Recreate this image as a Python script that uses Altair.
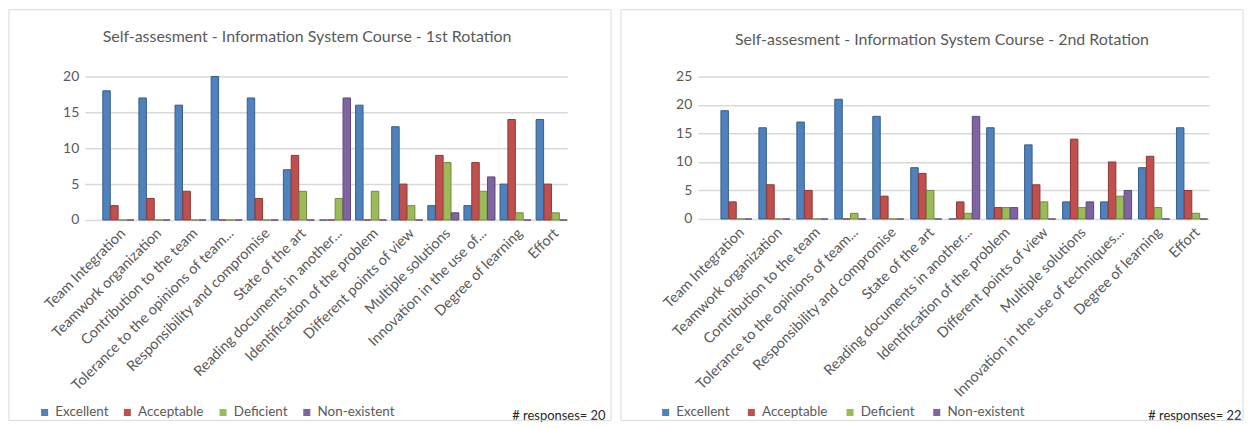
import altair as alt
import pandas as pd

levels = ["Excellent", "Acceptable", "Deficient", "Non-existent"]
fill_colors = ["#4F81BD", "#C0504D", "#9BBB59", "#8064A2"]
edge_colors = ["#385D8A", "#8C3836", "#71893F", "#5C4776"]

cats1 = ["Team Integration", "Teamwork organization", "Contribution to the team",
         "Tolerance to the opinions of team...", "Responsibility and compromise",
         "State of the art", "Reading documents in another...",
         "Identification of the problem", "Different points of view",
         "Multiple solutions", "Innovation in the use of...", "Degree of learning", "Effort"]
cats2 = ["Team Integration", "Teamwork organization", "Contribution to the team",
         "Tolerance to the opinions of team...", "Responsibility and compromise",
         "State of the art", "Reading documents in another...",
         "Identification of the problem", "Different points of view",
         "Multiple solutions", "Innovation in the use of techniques...", "Degree of learning", "Effort"]

r1_excellent = [18, 17, 16, 20, 17, 7, 0, 16, 13, 2, 2, 5, 14]
r1_acceptable = [2, 3, 4, 0, 3, 9, 0, 0, 5, 9, 8, 14, 5]
r1_deficient = [0, 0, 0, 0, 0, 4, 3, 4, 2, 8, 4, 1, 1]
r1_nonexistent = [0, 0, 0, 0, 0, 0, 17, 0, 0, 1, 6, 0, 0]

r2_excellent = [19, 16, 17, 21, 18, 9, 0, 16, 13, 3, 3, 9, 16]
r2_acceptable = [3, 6, 5, 0, 4, 8, 3, 2, 6, 14, 10, 11, 5]
r2_deficient = [0, 0, 0, 1, 0, 5, 1, 2, 3, 2, 4, 2, 1]
r2_nonexistent = [0, 0, 0, 0, 0, 0, 18, 2, 0, 3, 5, 0, 0]

y_ticks1 = [0, 5, 10, 15, 20]
y_ticks2 = [0, 5, 10, 15, 20, 25]

title1 = "Self-assesment  - Information System Course - 1st Rotation"
title2 = "Self-assesment  - Information System Course - 2nd Rotation"
responses1 = "# responses= 20"
responses2 = "# responses= 22"

FONT = "Lato"
GRAY = "#595959"


def panel(cats, series, title, ticks, w, h, po, resp, frame, leg_xy, leg_pad, resp_xy, title_xy):
    rows = []
    for lvl, vals in zip(levels, series):
        for c, v in zip(cats, vals):
            rows.append({"Category": c, "Level": lvl, "Count": v})
    df = pd.DataFrame(rows)

    bars = alt.Chart(df).mark_bar(strokeWidth=1).encode(
        x=alt.X("Category:N", sort=cats,
                scale=alt.Scale(paddingInner=0.14, paddingOuter=po, align=1),
                axis=alt.Axis(labelAngle=-45, labelFontSize=14.5, labelColor=GRAY, labelFont=FONT,
                              domain=False, ticks=False, labelPadding=6, labelLimit=400,
                              title=resp, titleX=resp_xy[0], titleY=resp_xy[1],
                              titleAlign="right", titleBaseline="middle", titleFontSize=13,
                              titleColor="#262626", titleFontWeight="normal", titleFont=FONT)),
        xOffset=alt.XOffset("Level:N", sort=levels, scale=alt.Scale(paddingInner=0.05)),
        y=alt.Y("Count:Q", scale=alt.Scale(domain=[ticks[0], ticks[-1]], nice=False),
                axis=alt.Axis(values=ticks, title=None, domain=False, ticks=False,
                              gridColor="#D9D9D9", gridWidth=1.5, labelFontSize=14,
                              labelColor=GRAY, labelFont=FONT, labelPadding=6)),
        color=alt.Color("Level:N", sort=levels,
                        scale=alt.Scale(domain=levels, range=fill_colors),
                        legend=alt.Legend(orient="none", legendX=leg_xy[0], legendY=leg_xy[1],
                                          direction="horizontal", columns=4, title=None,
                                          symbolType="square", symbolSize=50, symbolStrokeWidth=0,
                                          labelFontSize=13.5, labelColor=GRAY, labelFont=FONT,
                                          columnPadding=leg_pad, labelOffset=4)),
        stroke=alt.Stroke("Level:N", sort=levels,
                          scale=alt.Scale(domain=levels, range=edge_colors), legend=None),
    )

    box = alt.Chart(pd.DataFrame({"f": [0]})).mark_rect(
        fillOpacity=0, stroke="#D9D9D9", strokeWidth=1
    ).encode(x=alt.value(frame[0]), x2=alt.value(frame[1]),
             y=alt.value(frame[2]), y2=alt.value(frame[3]))

    head = alt.Chart(pd.DataFrame({"t": [title]})).mark_text(
        font=FONT, fontSize=16, color=GRAY, align="center", baseline="middle"
    ).encode(text="t:N", x=alt.value(title_xy[0]), y=alt.value(title_xy[1]))

    return alt.layer(box, head, bars).properties(width=w, height=h)


p1 = panel(cats1, [r1_excellent, r1_acceptable, r1_deficient, r1_nonexistent], title1, y_ticks1,
           484, 144, 0.25, responses1, (-76, 528, -67, 345), (-47, 330), 12, (522, 196), (223, -40))
p2 = panel(cats2, [r2_excellent, r2_acceptable, r2_deficient, r2_nonexistent], title2, y_ticks2,
           513, 143, 0.305, responses2, (-77, 547, -67, 345), (-39, 330), 15, (545, 197), (245, -37))

chart = alt.hconcat(p1, p2, spacing=8).resolve_legend(color="independent").properties(
    padding=0
).configure_view(stroke=None)

chart.save("out.html", embed_options={"renderer": "svg", "actions": False})
